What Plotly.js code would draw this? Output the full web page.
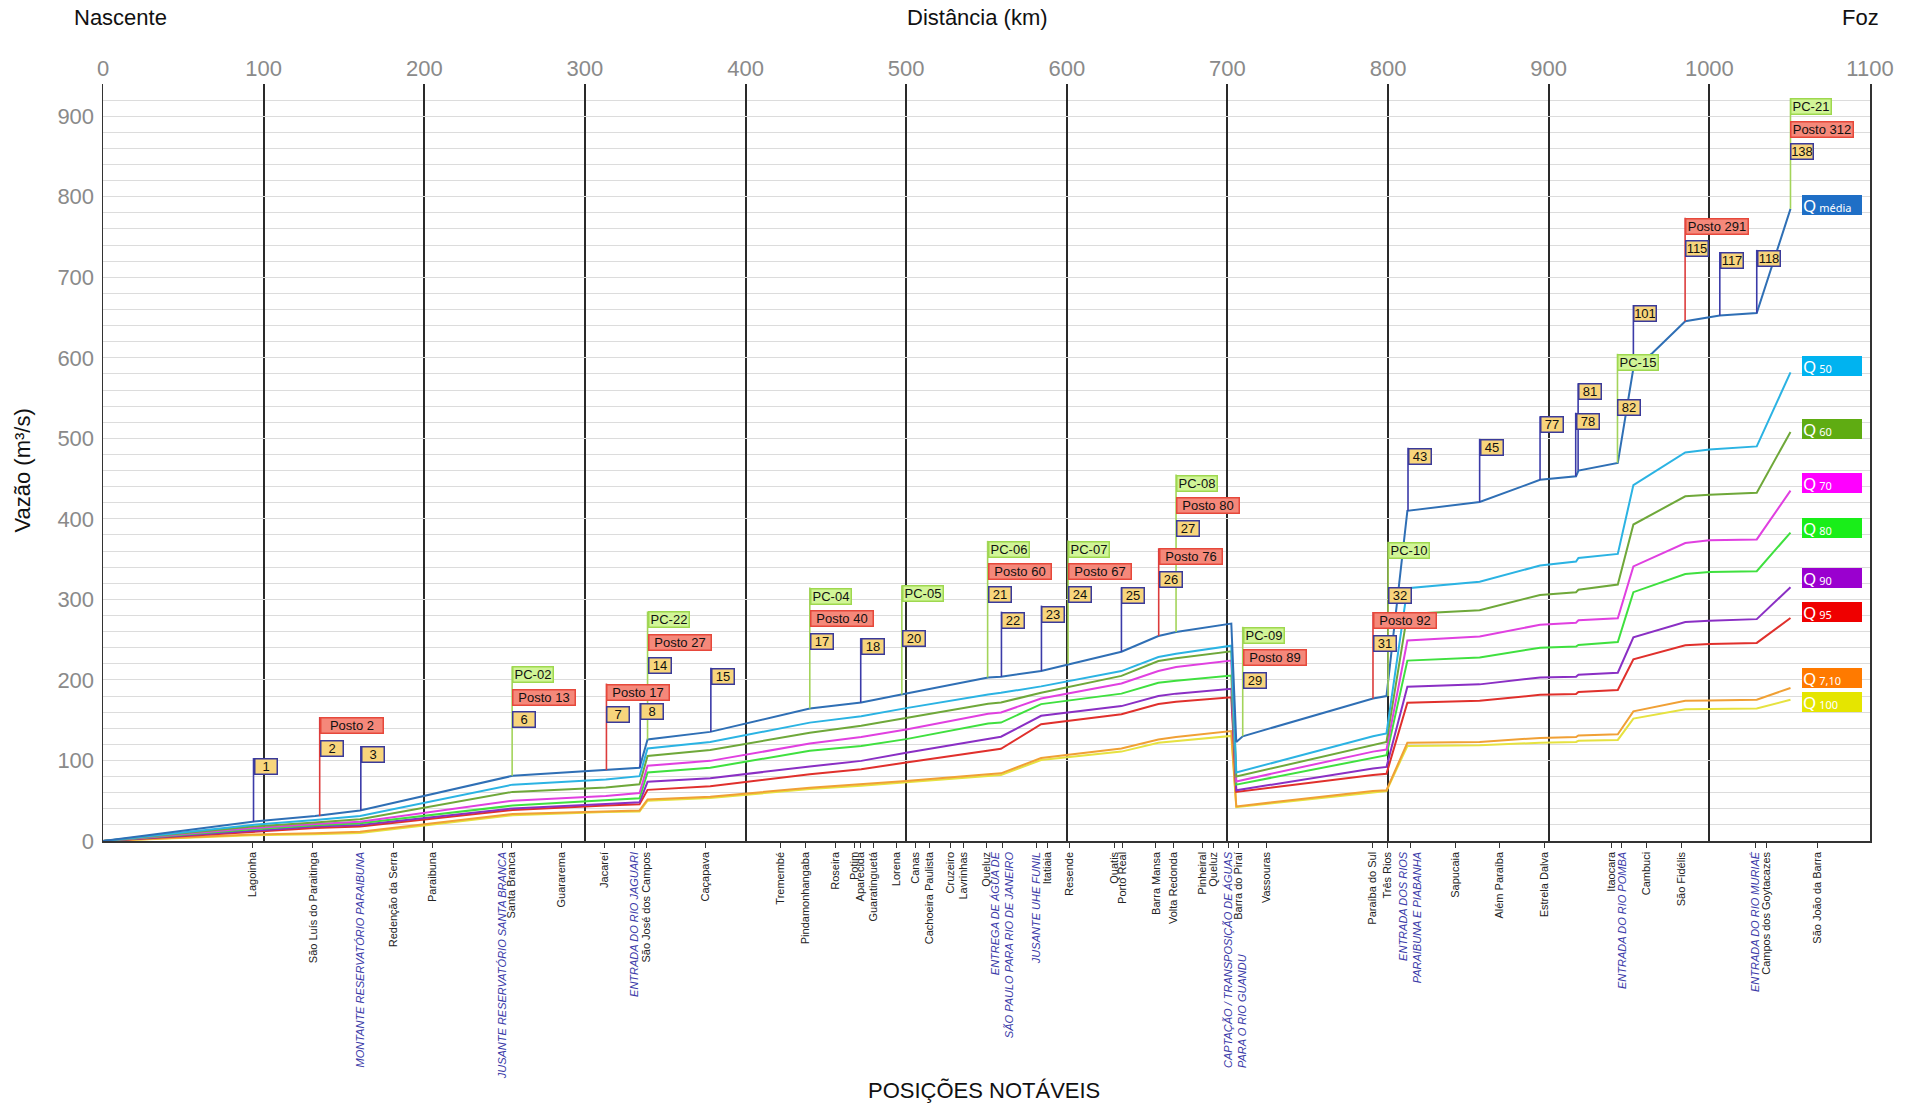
<!DOCTYPE html>
<html>
<head>
<meta charset="utf-8">
<script src="https://cdn.plot.ly/plotly-3.0.1.min.js"></script>
<style>html,body{margin:0;padding:0;background:#fff;}#chart{width:1916px;height:1106px;}</style>
</head>
<body>
<div id="chart"></div>
<script>
// ---------- DATA ----------
// Q média (blue top line)
const kmMedia = [0, 93, 132, 160, 255, 313, 334, 339, 378, 440, 472, 497, 551, 559, 584, 634, 657, 668, 702.4, 705.5, 709.5, 790.6, 799, 812, 857, 894.6, 917, 918.5, 943, 952.7, 964.6, 985, 1006.5, 1029.5, 1050.5];
const qMedia  = [0, 24, 31, 38, 81, 88, 91, 126, 135.5, 164.5, 172, 182, 203, 204, 211, 235, 254.5, 259.5, 270, 123, 130, 177, 180, 410, 421, 448.5, 453, 460, 469.5, 587, 606, 645.5, 652.5, 655.5, 785];

// other flow-duration series share this km grid
const kmQ = [0, 93, 132, 160, 255, 313, 334, 339, 378, 440, 472, 500, 551, 559, 584, 634, 657, 668, 702.4, 705.5, 790.6, 799, 812, 857, 894.6, 917, 918.5, 943, 952.7, 985, 1000, 1029.5, 1050.5];
const q50  = [0, 20, 26, 31, 70, 76.5, 80.5, 115, 123, 147, 155, 165, 182, 184, 192, 211, 228.5, 232.5, 242.5, 85, 130, 133.5, 314, 322, 342, 347, 351.5, 356.5, 442, 482.5, 486, 490, 582];
const q60  = [0, 18, 23, 27, 61, 66.5, 70.5, 105.5, 113, 134.5, 143, 153, 170.5, 172, 184, 205, 223.5, 227, 235.5, 80, 120, 123, 282, 286.5, 305.5, 309, 312, 318.5, 393, 428, 430, 432.5, 508];
const q70  = [0, 16, 21, 24, 50, 56, 59.5, 93.5, 99.5, 121, 129, 138.5, 158, 159.5, 177, 195.5, 211, 216, 224, 74, 111, 113.5, 249, 254, 268.5, 271, 274, 276.5, 341, 370, 373.5, 374.5, 435];
const q80  = [0, 14.5, 19.5, 22, 44, 50, 53, 85, 91, 112, 118, 126.5, 146, 147, 170, 183, 196.5, 199, 205.5, 70, 104, 106.5, 224, 228, 240, 241.5, 243.5, 247, 309, 331.5, 334, 335, 383];
const q90  = [0, 13, 18, 20, 40.5, 46, 48, 73.5, 78, 92.5, 99.5, 109.5, 127.5, 129.5, 155.5, 167.5, 180, 183, 189, 63, 90, 92, 191.5, 194.5, 203, 204, 206.5, 209, 253, 272, 273.5, 275.5, 315];
const q95  = [0, 11.5, 16, 18, 38.5, 44, 45.5, 63.5, 68, 83, 89, 97.5, 113, 114.5, 145, 157.5, 170, 173, 178.5, 61, 82, 83.5, 171.8, 174, 181.5, 182.5, 185, 187.5, 225.5, 243, 244.5, 246, 277];
const q710 = [0, 8, 9.5, 11.5, 33.5, 37, 38, 51.5, 55, 66, 70.5, 74.5, 83, 84, 103, 115, 126, 129, 136.5, 43, 62, 63, 122, 123, 128, 129, 131, 132.5, 161, 174, 174.5, 175.5, 190];
const q100 = [0, 7, 8.5, 10, 32, 36, 36.5, 50, 53.5, 64.5, 68.5, 73, 81, 82, 100.5, 111, 122, 124, 130.5, 42, 61, 62, 118, 119, 122, 123, 124.5, 125.5, 152, 163.5, 164, 164.5, 175.5];

// legend tags (Q + subscript) and where they sit (m³/s)
const legendLabels = ['média', '50', '60', '70', '80', '90', '95', '7,10', '100'];
const legendY      = [790, 590, 512, 444, 389, 327, 284, 203, 172];

// flag markers: km, start value, top value, stacked labels ("" = empty slot)
const flagKm   = [93.7, 134.9, 160.5, 254.7, 313.4, 334.4, 339, 378.4, 440, 471.7, 497.3, 550.7, 559.3, 584.2, 600.8, 634, 657.2, 668, 709.5, 790.6, 800, 812.4, 857, 894.6, 916.8, 918.3, 942.8, 952.7, 984.9, 1006.5, 1029.5, 1050.5];
const flagBase = [24, 31, 38, 81, 88, 91, 126, 135.5, 164.5, 172, 182, 203, 204, 211, 220, 235, 254.5, 259.5, 130, 177, 180, 410, 421, 448.5, 453, 460, 469.5, 587, 645.5, 652.5, 655.5, 785];
const flagTop  = [103, 154, 118, 217, 195.5, 171.5, 285, 215, 314.7, 252, 317.6, 372.7, 284.8, 292.3, 373, 315, 363.6, 455, 266, 284.4, 371.5, 488.4, 499.4, 527.5, 531.8, 568.4, 605, 665.6, 774, 731.3, 734, 922.5];
const flagLabels = [
  ['1'], ['Posto 2', '2'], ['3'], ['PC-02', 'Posto 13', '6'], ['Posto 17', '7'], ['8'],
  ['PC-22', 'Posto 27', '14'], ['15'], ['PC-04', 'Posto 40', '17'], ['18'], ['PC-05', '', '20'],
  ['PC-06', 'Posto 60', '21'], ['22'], ['23'], ['PC-07', 'Posto 67', '24'], ['25'],
  ['Posto 76', '26'], ['PC-08', 'Posto 80', '27'], ['PC-09', 'Posto 89', '29'], ['Posto 92', '31'],
  ['PC-10', '', '32'], ['43'], ['45'], ['77'], ['78'], ['81'], ['PC-15', '', '82'], ['101'],
  ['Posto 291', '115'], ['117'], ['118'], ['PC-21', 'Posto 312', '138']
];

// notable positions along the river (bottom axis)
const placeKm = [92.9, 130.7, 160.3, 180.7, 205.2, 248.6, 254.1, 285.2, 311.9, 331, 338.6, 375.3,
  422, 437.1, 456, 467.6, 471.6, 479.8, 493.8, 505.9, 514.3, 527.6, 535.9, 549.9, 560, 581, 587.7,
  601.8, 629.9, 634.4, 655.5, 666.6, 684.4, 691, 700.6, 706.6, 724, 790.1, 799.9, 814, 841.7, 869.1,
  897.3, 938.9, 945.6, 960.9, 982.9, 1028.5, 1035.5, 1067.3];
const placeNames = ['Lagoinha', 'São Luís do Paraitinga', 'MONTANTE RESERVATÓRIO PARAIBUNA', 'Redenção da Serra',
  'Paraibuna', 'JUSANTE RESERVATÓRIO SANTA BRANCA', 'Santa Branca', 'Guararema', 'Jacareí',
  'ENTRADA DO RIO JAGUARI', 'São José dos Campos', 'Caçapava', 'Tremembé', 'Pindamonhangaba', 'Roseira',
  'Potim', 'Aparecida', 'Guaratinguetá', 'Lorena', 'Canas', 'Cachoeira Paulista', 'Cruzeiro', 'Lavrinhas',
  'Queluz', 'ENTREGA DE ÁGUA DE<br>SÃO PAULO PARA RIO DE JANEIRO', 'JUSANTE UHE FUNIL', 'Itatiaia', 'Resende',
  'Quatis', 'Porto Real', 'Barra Mansa', 'Volta Redonda', 'Pinheiral', 'Queluz',
  'CAPTAÇÃO / TRANSPOSIÇÃO DE ÁGUAS', 'Barra do Piraí', 'Vassouras',
  'Paraíba do Sul', 'Três Rios', 'ENTRADA DOS RIOS<br>PARAIBUNA E PIABANHA', 'Sapucaia', 'Além Paraíba',
  'Estrela Dalva', 'Itaocara', 'ENTRADA DO RIO POMBA', 'Cambuci', 'São Fidélis', 'ENTRADA DO RIO MURIAÉ',
  'Campos dos Goytacazes', 'São João da Barra'];
const placeIsNote = [0,0,1,0,0,1,0,0,0,1,0,0, 0,0,0,0,0,0,0,0,0,0,0,0,1,1,0, 0,0,0,0,0,0,0,1,0,0, 0,0,1,0,0, 0,0,1,0,0,1,0,0];
// second line of the CAPTAÇÃO note (start-aligned with the first line)
const noteLine2Km = 709.5;
const noteLine2Text = 'PARA O RIO GUANDU';

const distTicks = [0, 100, 200, 300, 400, 500, 600, 700, 800, 900, 1000, 1100];
const flowTicks = [0, 100, 200, 300, 400, 500, 600, 700, 800, 900];

// ---------- STYLE ----------
const FONT = 'Liberation Sans, Arial, sans-serif';
const NOTE_COLOR = '#3a3aa8';
const lineColors = ['#2f6fb5', '#2bb3e3', '#6fa83a', '#e040e0', '#3fe03f', '#8a2fc4', '#e0302c', '#f0a035', '#e6e240'];
const tagColors  = ['#1f6fc6', '#00b3f0', '#5fac12', '#ff00ff', '#19ee19', '#9a00cf', '#ef0000', '#ff7a00', '#e5e500'];
const flagStyle = {
  num:   {fill: '#f8d57c', border: '#3a3a9a', line: '#3b3ba8', w: 21},
  posto: {fill: '#f5887a', border: '#e6483b', line: '#dc3c3c', w: 61},
  pc:    {fill: '#d1f597', border: '#9ed84f', line: '#a3d45a', w: 39}
};
const typeOf = s => s.startsWith('PC') ? 'pc' : (s.startsWith('Posto') ? 'posto' : 'num');

// ---------- TRACES ----------
const otherSeries = [q50, q60, q70, q80, q90, q95, q710, q100];
const otherNames = ['Q50', 'Q60', 'Q70', 'Q80', 'Q90', 'Q95', 'Q7,10', 'Q100'];
const traces = [];
for (let i = otherSeries.length - 1; i >= 0; i--) {
  traces.push({type: 'scatter', mode: 'lines', x: kmQ, y: otherSeries[i], name: otherNames[i],
    xaxis: 'x', yaxis: 'y', line: {color: lineColors[i + 1], width: 2}, hoverinfo: 'x+y+name'});
}
traces.push({type: 'scatter', mode: 'lines', x: kmMedia, y: qMedia, name: 'Q média',
  xaxis: 'x2', yaxis: 'y', line: {color: lineColors[0], width: 2}, hoverinfo: 'x+y+name'});

// ---------- FLAGS ----------
const shapes = [];
const annotations = [];
const PITCH = 28;
flagKm.forEach((km, i) => {
  const labs = flagLabels[i];
  const st = flagStyle[typeOf(labs[0])];
  shapes.push({type: 'line', xref: 'x', yref: 'y', x0: km, x1: km, y0: flagBase[i], y1: flagTop[i],
    line: {color: st.line, width: 1.6}, layer: 'above'});
  labs.forEach((lab, j) => {
    if (!lab) return;
    const s = flagStyle[typeOf(lab)];
    annotations.push({xref: 'x', yref: 'y', x: km, y: flagTop[i] - j * PITCH, xanchor: 'left', yanchor: 'top',
      text: lab, showarrow: false, bgcolor: s.fill, bordercolor: s.border, borderwidth: 1.5, borderpad: 0,
      width: s.w, height: 14, align: 'center', font: {family: FONT, size: 13, color: '#111'}});
  });
});

// legend tags
legendLabels.forEach((lab, i) => {
  annotations.push({xref: 'x', yref: 'y', x: 1057.5, y: legendY[i], xanchor: 'left', yanchor: 'middle',
    text: 'Q<span style="font-size:11px"> ' + lab + '</span>', showarrow: false, bgcolor: tagColors[i],
    borderwidth: 0, borderpad: 1, width: 58, height: 18, align: 'left',
    font: {family: 'Noto Sans, sans-serif', size: 17, color: '#ffffff'}});
});

// second line of the water-transfer note
annotations.push({xref: 'x', yref: 'paper', x: noteLine2Km, y: -0.303, xanchor: 'center', yanchor: 'bottom',
  textangle: -90, showarrow: false, text: '<i>' + noteLine2Text + '</i>',
  font: {family: FONT, size: 11, color: NOTE_COLOR}});

// titles
annotations.push({xref: 'paper', yref: 'paper', x: -0.0173, y: 1.0877, xanchor: 'left', yanchor: 'middle',
  text: 'Nascente', showarrow: false, font: {family: FONT, size: 22, color: '#111'}});
annotations.push({xref: 'paper', yref: 'paper', x: 0.4948, y: 1.0877, xanchor: 'center', yanchor: 'middle',
  text: 'Distância (km)', showarrow: false, font: {family: FONT, size: 22, color: '#111'}});
annotations.push({xref: 'paper', yref: 'paper', x: 0.9946, y: 1.0877, xanchor: 'center', yanchor: 'middle',
  text: 'Foz', showarrow: false, font: {family: FONT, size: 22, color: '#111'}});
annotations.push({xref: 'paper', yref: 'paper', x: 0.4988, y: -0.3296, xanchor: 'center', yanchor: 'middle',
  text: 'POSIÇÕES NOTÁVEIS', showarrow: false, font: {family: FONT, size: 22, color: '#111'}});
annotations.push({xref: 'paper', yref: 'paper', x: -0.0456, y: 0.49, xanchor: 'center', yanchor: 'middle',
  text: 'Vazão (m³/s)', textangle: -90, showarrow: false, font: {family: FONT, size: 22, color: '#111'}});

const placeText = placeNames.map((n, i) => placeIsNote[i]
  ? '<i><span style="color:' + NOTE_COLOR + '">' + n + '</span></i>' : n);

// ---------- LAYOUT ----------
const layout = {
  width: 1916, height: 1106,
  margin: {l: 103, r: 46, t: 84, b: 265},
  paper_bgcolor: '#ffffff', plot_bgcolor: '#ffffff',
  showlegend: false,
  font: {family: FONT},
  xaxis: {
    side: 'top', range: [0, 1100], tickmode: 'array', tickvals: distTicks,
    showgrid: true, gridcolor: '#2a2a2a', gridwidth: 2, zeroline: false, showline: false,
    ticks: '', ticklabelstandoff: 3, tickfont: {family: FONT, size: 22, color: '#8a8a8a'}
  },
  xaxis2: {
    overlaying: 'x', side: 'bottom', anchor: 'y', range: [0, 1100], tickmode: 'array',
    tickvals: placeKm, ticktext: placeText, tickangle: -90, ticks: 'outside', ticklen: 5,
    tickcolor: '#333', tickwidth: 1, showgrid: false, zeroline: false,
    showline: true, linecolor: '#333', linewidth: 1.5,
    tickfont: {family: FONT, size: 11, color: '#222'}
  },
  yaxis: {
    range: [0, 940], tickmode: 'array', tickvals: flowTicks,
    showgrid: true, gridcolor: '#dcdcdc', gridwidth: 1,
    minor: {dtick: 20, tick0: 0, showgrid: true, gridcolor: '#dcdcdc', gridwidth: 1},
    zeroline: false, showline: true, mirror: true, linecolor: '#333', linewidth: 1.5,
    ticks: '', ticklabelstandoff: 3, tickfont: {family: FONT, size: 22, color: '#8a8a8a'}
  },
  shapes: shapes,
  annotations: annotations
};

Plotly.newPlot('chart', traces, layout, {staticPlot: true, displayModeBar: false});
</script>
</body>
</html>
